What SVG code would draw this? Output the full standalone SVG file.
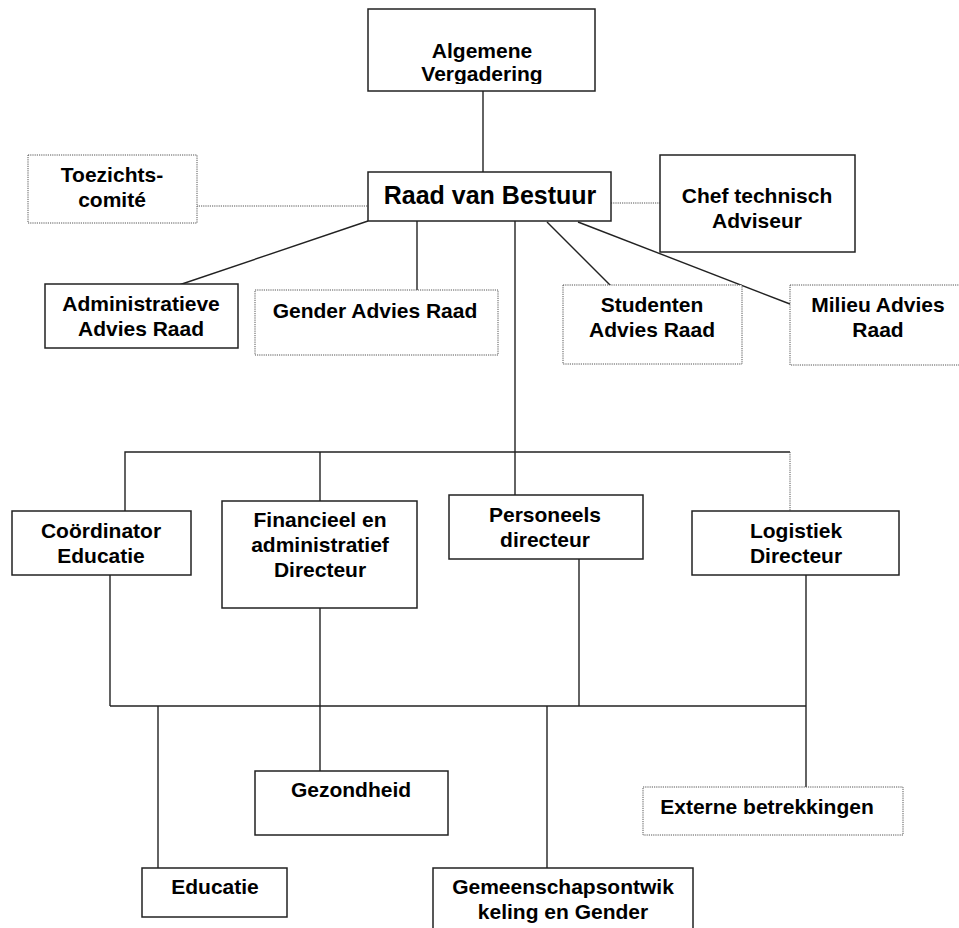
<svg xmlns="http://www.w3.org/2000/svg" width="959" height="928" viewBox="0 0 959 928">
<style>
.b{fill:#fff;stroke:#222;stroke-width:1.5}
.d{fill:#fff;stroke:#555;stroke-width:1;stroke-dasharray:1.2 1}
.t{font-family:"Liberation Sans",Arial,sans-serif;font-weight:bold;font-size:21px;fill:#000;text-anchor:middle}
.big{font-size:25px}
.c{fill:none;stroke:#222;stroke-width:1.4}
.cd{fill:none;stroke:#555;stroke-width:1;stroke-dasharray:1.2 1}
</style>
<defs>
<clipPath id="clipAV"><rect x="368" y="9" width="227" height="75"/></clipPath>
</defs>
<rect width="959" height="928" fill="#fff"/>
<g id="connectors">
<line class="c" x1="483" y1="91" x2="483" y2="172"/>
<line class="cd" x1="190" y1="206" x2="368" y2="206"/>
<line class="cd" x1="611" y1="203" x2="660" y2="203"/>
<line class="c" x1="368" y1="221" x2="173" y2="287"/>
<line class="c" x1="417" y1="221" x2="417" y2="290"/>
<line class="c" x1="547" y1="222" x2="612" y2="287"/>
<line class="c" x1="578" y1="222" x2="790" y2="304"/>
<line class="c" x1="515" y1="221" x2="515" y2="495"/>
<polyline class="c" points="125,511 125,452 790,452"/>
<line class="c" x1="320" y1="452" x2="320" y2="501"/>
<line class="cd" x1="790" y1="452" x2="790" y2="511"/>
<line class="c" x1="110" y1="575" x2="110" y2="706"/>
<line class="c" x1="579" y1="559" x2="579" y2="706"/>
<line class="c" x1="806" y1="575" x2="806" y2="787"/>
<line class="c" x1="320" y1="608" x2="320" y2="771"/>
<line class="c" x1="110" y1="706" x2="806" y2="706"/>
<line class="c" x1="158" y1="706" x2="158" y2="868"/>
<line class="c" x1="547" y1="706" x2="547" y2="868"/>
</g>
<g id="algemene-vergadering">
<rect class="b" x="368" y="9" width="227" height="82"/>
<g clip-path="url(#clipAV)">
<text class="t" x="482" y="58">Algemene</text>
<text class="t" x="482" y="81">Vergadering</text>
</g>
</g>
<g id="raad-van-bestuur">
<rect class="b" x="368" y="172" width="243" height="49"/>
<text class="t big" x="490" y="204">Raad van Bestuur</text>
</g>
<g id="toezichtscomite">
<rect class="d" x="28" y="155" width="169" height="68"/>
<text class="t" x="112" y="182">Toezichts-</text>
<text class="t" x="112" y="207">comité</text>
</g>
<g id="chef-technisch-adviseur">
<rect class="b" x="660" y="155" width="195" height="97"/>
<text class="t" x="757" y="203">Chef technisch</text>
<text class="t" x="757" y="228">Adviseur</text>
</g>
<g id="administratieve-advies-raad">
<rect class="b" x="45" y="284" width="193" height="64"/>
<text class="t" x="141" y="311">Administratieve</text>
<text class="t" x="141" y="336">Advies Raad</text>
</g>
<g id="gender-advies-raad">
<rect class="d" x="255" y="290" width="243" height="65"/>
<text class="t" x="375" y="318">Gender Advies Raad</text>
</g>
<g id="studenten-advies-raad">
<rect class="d" x="563" y="285" width="179" height="79"/>
<text class="t" x="652" y="312">Studenten</text>
<text class="t" x="652" y="337">Advies Raad</text>
</g>
<g id="milieu-advies-raad">
<rect class="d" x="790" y="285" width="180" height="80"/>
<text class="t" x="878" y="312">Milieu Advies</text>
<text class="t" x="878" y="337">Raad</text>
</g>
<g id="coordinator-educatie">
<rect class="b" x="12" y="511" width="179" height="64"/>
<text class="t" x="101" y="538">Coördinator</text>
<text class="t" x="101" y="563">Educatie</text>
</g>
<g id="financieel-directeur">
<rect class="b" x="222" y="501" width="195" height="107"/>
<text class="t" x="320" y="527">Financieel en</text>
<text class="t" x="320" y="552">administratief</text>
<text class="t" x="320" y="577">Directeur</text>
</g>
<g id="personeels-directeur">
<rect class="b" x="449" y="495" width="194" height="64"/>
<text class="t" x="545" y="522">Personeels</text>
<text class="t" x="545" y="547">directeur</text>
</g>
<g id="logistiek-directeur">
<rect class="b" x="692" y="511" width="207" height="64"/>
<text class="t" x="796" y="538">Logistiek</text>
<text class="t" x="796" y="563">Directeur</text>
</g>
<g id="gezondheid">
<rect class="b" x="255" y="771" width="193" height="64"/>
<text class="t" x="351" y="797">Gezondheid</text>
</g>
<g id="externe-betrekkingen">
<rect class="d" x="643" y="787" width="260" height="48"/>
<text class="t" x="767" y="814">Externe betrekkingen</text>
</g>
<g id="educatie">
<rect class="b" x="142" y="868" width="145" height="49"/>
<text class="t" x="215" y="894">Educatie</text>
</g>
<g id="gemeenschapsontwikkeling">
<rect class="b" x="433" y="868" width="260" height="70"/>
<text class="t" x="563" y="894">Gemeenschapsontwik</text>
<text class="t" x="563" y="919">keling en Gender</text>
</g>
</svg>
